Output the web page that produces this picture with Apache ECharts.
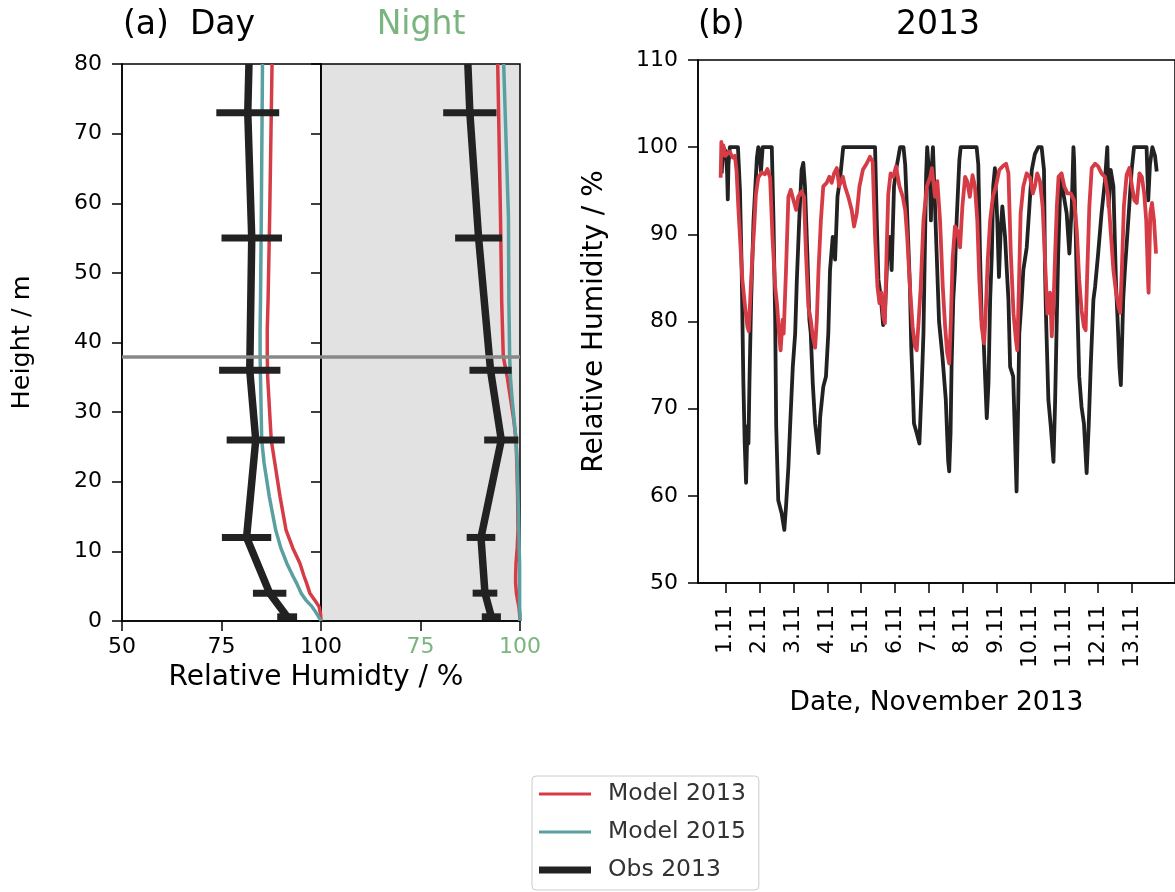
<!DOCTYPE html>
<html>
<head>
<meta charset="utf-8">
<script src="https://cdn.jsdelivr.net/npm/echarts@6/dist/echarts.min.js"></script>
<style>
  html, body { margin: 0; padding: 0; background: #ffffff; }
  #chart { width: 1175px; height: 892px; }
</style>
</head>
<body>
<div id="chart"></div>
<script>
// ---- (a) vertical profiles of relative humidity ----
// observation heights (m) with day / night means and spread (half-width, %)
const obsHeight    = [80, 73, 55, 36, 26, 12, 4, 0.6];
const dayObsRH     = [81.9, 81.6, 82.6, 82.1, 83.6, 81.3, 87.1, 91.5];
const dayObsErr    = [null, 7.9, 7.6, 7.7, 7.3, 6.2, 4.2, 2.5];
const nightObsRH   = [86.9, 87.4, 89.6, 92.6, 95.3, 90.2, 91.2, 92.8];
const nightObsErr  = [null, 6.7, 5.9, 5.3, 4.3, 3.6, 3.1, 2.4];

// model levels (m) and modelled profiles
const modelHeight    = [80, 58, 46, 42, 38, 35, 32, 29, 26, 22.7, 17.9, 13.1, 10.5, 8.3, 6.5, 5.4, 4.0, 3.0, 2.1, 1.0, 0];
const dayModel2013   = [87.7, 87.1, 86.7, 86.5, 86.5, 86.6, 86.9, 87.2, 87.5, 88.4, 89.7, 91.2, 92.9, 94.7, 95.7, 96.4, 97.2, 98.4, 99.5, 99.9, 100];
const dayModel2015   = [85.3, 85.0, 84.8, 84.7, 84.7, 84.8, 84.9, 85.0, 85.1, 85.7, 87.0, 88.6, 89.9, 91.4, 92.9, 93.9, 95.0, 96.2, 97.7, 99.0, 100];
const nightModel2013 = [94.4, 95.1, 95.4, 95.6, 95.8, 96.8, 97.6, 98.4, 99.0, 99.2, 99.4, 99.5, 99.3, 99.0, 98.9, 98.9, 99.1, 99.4, 99.7, 99.9, 100];
const nightModel2015 = [95.9, 97.1, 97.2, 97.3, 97.4, 97.6, 98.0, 98.5, 99.0, 99.3, 99.5, 99.7, 99.8, 99.9, 99.9, 99.9, 99.9, 99.9, 99.9, 100, 100];

// reference height marked across both profile panels (m)
const refHeight = 38;

// ---- (b) time series, November 2013 (time in days of the month) ----
const obsDay = [0.88, 0.92, 1.00, 1.04, 1.06, 1.08, 1.12, 1.36, 1.42, 1.47, 1.52, 1.56, 1.60, 1.64, 1.67, 1.70, 1.75, 1.82, 1.92, 1.96,
  2.00, 2.04, 2.09, 2.36, 2.41, 2.46, 2.49, 2.55, 2.65, 2.73, 2.78, 2.85, 2.90, 2.98, 3.05, 3.10, 3.17, 3.24, 3.29, 3.34,
  3.41, 3.47, 3.51, 3.57, 3.64, 3.74, 3.79, 3.88, 3.96, 4.03, 4.08, 4.16, 4.23, 4.30, 4.38, 4.47, 5.41, 5.46, 5.51, 5.58,
  5.65, 5.70, 5.77, 5.85, 5.90, 5.97, 6.05, 6.15, 6.25, 6.30, 6.35, 6.44, 6.48, 6.52, 6.56, 6.64, 6.72, 6.79, 6.84, 6.88,
  6.92, 6.95, 7.00, 7.04, 7.06, 7.09, 7.12, 7.17, 7.21, 7.30, 7.40, 7.50, 7.57, 7.60, 7.64, 7.67, 7.72, 7.77, 7.82, 7.90,
  7.94, 8.41, 8.46, 8.51, 8.56, 8.61, 8.66, 8.71, 8.76, 8.81, 8.86, 8.90, 8.95, 9.02, 9.07, 9.12, 9.17, 9.25, 9.30, 9.35,
  9.40, 9.49, 9.54, 9.59, 9.64, 9.67, 9.74, 9.79, 9.89, 9.97, 10.04, 10.13, 10.23, 10.33, 10.40, 10.43, 10.46, 10.53, 10.60, 10.68,
  10.73, 10.78, 10.82, 10.89, 10.99, 11.07, 11.15, 11.22, 11.27, 11.29, 11.35, 11.38, 11.44, 11.51, 11.58, 11.66, 11.72, 11.78, 11.86, 11.91,
  12.00, 12.10, 12.20, 12.27, 12.31, 12.37, 12.45, 12.53, 12.57, 12.63, 12.67, 12.70, 12.74, 12.79, 12.89, 12.99, 13.06, 13.43, 13.48, 13.53,
  13.60, 13.68, 13.73];
const obsRH = [97, 100, 99.5, 97, 94, 98, 100, 100, 95, 86, 73, 66, 61.5, 68, 66, 73, 82.5, 91.6, 98.8, 100,
  99.5, 97.2, 100, 100, 91.6, 80.2, 68, 59.5, 58, 56.1, 58.8, 63.3, 67.9, 74.8, 78.6, 84.8, 91.6, 97.4, 98.2, 95.5,
  87.8, 80.2, 78.7, 72.9, 68.3, 64.9, 69.1, 72.5, 73.7, 78.7, 85.9, 89.7, 87.1, 94.3, 96.5, 100, 100, 91.6, 84.8, 82.8,
  79.6, 80.9, 87.1, 89.7, 85.9, 95.5, 97.8, 100, 100, 98, 93.2, 84, 77, 72.9, 68.3, 67.2, 66, 72.9, 78.7, 88,
  97, 100, 100, 95, 91.6, 98, 100, 100, 90, 80, 76, 71, 64, 62.8, 67.2, 74.8, 82.5, 85.9, 91.6, 98.5,
  100, 100, 98, 87.8, 80.2, 78.6, 73.7, 68.9, 72.9, 82.5, 87.8, 95.5, 97.6, 91.6, 85.1, 90.4, 93.2, 89.7, 86, 82.5,
  74.8, 73.7, 67.2, 60.5, 71, 78.6, 82.5, 85.9, 88.5, 93.2, 97.4, 99.2, 100, 100, 97.4, 86, 80.6, 71, 68, 63.9,
  71, 80.6, 87.8, 96.6, 94.3, 92.4, 87.8, 93.2, 100, 98.5, 87.8, 82.5, 73.7, 70.2, 68.3, 62.6, 68, 74.8, 82.5, 84,
  87.8, 92.4, 96.1, 100, 93.2, 97.4, 95.5, 84, 80.6, 74.8, 72.7, 76.7, 82.5, 85.9, 91.6, 97.4, 100, 100, 93.9, 98,
  100, 99, 97.2];

const modDay = [0.85, 0.87, 0.89, 0.93, 0.99, 1.11, 1.21, 1.27, 1.32, 1.37, 1.42, 1.49, 1.57, 1.64, 1.68, 1.74, 1.79, 1.84, 1.89, 1.96,
  2.06, 2.16, 2.23, 2.31, 2.38, 2.46, 2.52, 2.58, 2.62, 2.68, 2.71, 2.78, 2.85, 2.92, 3.00, 3.08, 3.14, 3.24, 3.31, 3.37,
  3.44, 3.51, 3.57, 3.64, 3.69, 3.74, 3.81, 3.88, 3.98, 4.06, 4.13, 4.20, 4.28, 4.35, 4.46, 4.52, 4.62, 4.72, 4.79, 4.87,
  4.95, 5.05, 5.16, 5.26, 5.34, 5.41, 5.48, 5.54, 5.60, 5.65, 5.70, 5.75, 5.80, 5.87, 5.95, 6.03, 6.13, 6.23, 6.30, 6.36,
  6.44, 6.52, 6.59, 6.64, 6.70, 6.76, 6.84, 6.94, 7.04, 7.09, 7.18, 7.25, 7.33, 7.41, 7.48, 7.54, 7.60, 7.65, 7.70, 7.77,
  7.84, 7.92, 7.99, 8.07, 8.13, 8.21, 8.29, 8.36, 8.43, 8.49, 8.56, 8.63, 8.67, 8.74, 8.81, 8.89, 8.98, 9.08, 9.18, 9.28,
  9.35, 9.42, 9.50, 9.57, 9.61, 9.66, 9.71, 9.79, 9.89, 9.99, 10.07, 10.13, 10.20, 10.28, 10.36, 10.43, 10.50, 10.55, 10.58, 10.63,
  10.68, 10.73, 10.78, 10.83, 10.92, 11.00, 11.09, 11.19, 11.29, 11.37, 11.44, 11.51, 11.58, 11.63, 11.68, 11.74, 11.81, 11.91, 12.00, 12.10,
  12.20, 12.30, 12.37, 12.45, 12.53, 12.60, 12.65, 12.70, 12.76, 12.84, 12.92, 13.00, 13.07, 13.14, 13.22, 13.29, 13.36, 13.42, 13.48, 13.49,
  13.54, 13.59, 13.65, 13.71];
const modRH = [96.5, 100.6, 99, 100.2, 99, 99.5, 98.8, 99, 97.2, 93.2, 89.7, 84.8, 81.7, 79.4, 78.9, 84, 87.8, 90.8, 94.6, 96.5,
  97.1, 96.9, 97.5, 96.5, 89.7, 84, 81.7, 78.3, 76.7, 80.2, 78.6, 85.9, 94.3, 95.1, 93.9, 92.8, 94.3, 94.9, 94.3, 87.8,
  81.7, 80.2, 78.3, 77, 80.2, 85.9, 91.6, 95.5, 95.9, 96.6, 95.9, 97, 97.6, 95.5, 96.6, 95.5, 94.3, 92.8, 90.9, 92.4,
  95.5, 97.4, 98.1, 98.9, 98.3, 89.7, 84, 82.1, 83.3, 80.6, 79.8, 87.8, 94.6, 97, 96.6, 97.8, 95.5, 94.3, 92.8, 89.7,
  84, 79.4, 77.1, 76.7, 80.2, 84, 91.6, 95.5, 96.6, 97.6, 94.3, 96.1, 91.6, 84, 79.4, 76.4, 75.2, 80.2, 87.1, 90.9,
  90.4, 88.5, 93.2, 96.6, 96.1, 94.3, 96.8, 95.5, 91.6, 84.8, 79.4, 77.5, 80.2, 87.1, 91.6, 94.3, 95.5, 97.4, 97.8, 98.1,
  97, 87.8, 80.9, 77.9, 76.7, 84, 92.4, 95.5, 97, 96.5, 94.7, 95.5, 97, 96.1, 93.2, 87.1, 80.9, 81.7, 83.3, 78.3,
  81.7, 87.8, 93.2, 96.6, 97, 95.5, 94.7, 94.7, 93.9, 90.4, 84.8, 81.3, 79.4, 79, 85.9, 93.2, 97.6, 98.1, 97.8, 97,
  96.6, 94.3, 90.4, 85.9, 83.3, 81.7, 81, 85.9, 93.2, 96.8, 97.6, 95.5, 93.9, 93.6, 97, 96.6, 94.7, 91.6, 84, 83.3,
  92.4, 93.6, 91.6, 87.8];

// date ticks of panel (b)
const dateTicks  = [1, 2, 3, 4, 5, 6, 7, 8, 9, 10, 11, 12, 13];
const dateLabels = ['1.11', '2.11', '3.11', '4.11', '5.11', '6.11', '7.11', '8.11', '9.11', '10.11', '11.11', '12.11', '13.11'];

// ---- styling ----
const FONT = 'DejaVu Sans';
const RED = '#d63c46';
const TEAL = '#5aa0a0';
const OBS = '#222222';
const NIGHT_GREEN = '#7ab57f';

const pairs = (xs, ys) => xs.map((x, i) => [x, ys[i]]);
const profile = (rh, h) => rh.map((v, i) => [v, h[i]]);
const errData = (rh, err, h) => rh.map((v, i) => [v, err[i], h[i]]).filter(d => d[1] != null);

function axisCommon(extra) {
  return Object.assign({
    type: 'value',
    splitLine: { show: false },
    axisLine: { show: true, lineStyle: { color: '#000', width: 1.5 } },
    axisTick: { show: true, inside: false, length: 10, lineStyle: { color: '#000', width: 1.5 } },
    axisLabel: { fontFamily: FONT, fontSize: 22, color: '#000' }
  }, extra);
}

function errorBars(rh, err, xIdx, yIdx) {
  return {
    name: 'Obs 2013', type: 'custom', xAxisIndex: xIdx, yAxisIndex: yIdx, z: 4,
    color: OBS, silent: true,
    data: errData(rh, err, obsHeight),
    renderItem: function (params, api) {
      const v = api.value(0), e = api.value(1), h = api.value(2);
      const p1 = api.coord([v - e, h]);
      const p2 = api.coord([v + e, h]);
      return {
        type: 'rect',
        shape: { x: p1[0], y: p1[1] - 3.5, width: p2[0] - p1[0], height: 7 },
        style: { fill: OBS }
      };
    }
  };
}

const refLine = {
  silent: true, symbol: 'none', label: { show: false },
  lineStyle: { color: '#888888', width: 3.5, type: 'solid' },
  data: [{ yAxis: refHeight }]
};

const lineSeries = (name, color, width, data, xIdx, yIdx, z, extra) => Object.assign({
  name, type: 'line', xAxisIndex: xIdx, yAxisIndex: yIdx, z,
  color, symbol: 'none', showSymbol: false, smooth: false,
  lineStyle: { color, width, cap: 'butt', join: 'round' },
  data
}, extra || {});

const chart = echarts.init(document.getElementById('chart'), null, { renderer: 'canvas' });

chart.setOption({
  animation: false,
  backgroundColor: '#ffffff',
  textStyle: { fontFamily: FONT },
  grid: [
    { left: 122, top: 64, width: 199, height: 557, show: true, borderColor: '#000', borderWidth: 1.5, backgroundColor: 'transparent' },
    { left: 321, top: 64, width: 199, height: 557, show: true, borderColor: '#000', borderWidth: 1.5, backgroundColor: '#e2e2e2' },
    { left: 698, top: 60, width: 477, height: 523, show: true, borderColor: '#000', borderWidth: 1.5, backgroundColor: 'transparent' }
  ],
  xAxis: [
    axisCommon({ gridIndex: 0, min: 50, max: 100, interval: 25,
      axisLabel: { fontFamily: FONT, fontSize: 22, color: '#000', margin: 15 } }),
    axisCommon({ gridIndex: 1, min: 50, max: 100, interval: 25,
      axisLabel: { fontFamily: FONT, fontSize: 22, color: NIGHT_GREEN, margin: 15, showMinLabel: false } }),
    axisCommon({ gridIndex: 2, min: 0.18, max: 14.27,
      name: 'Date, November 2013', nameLocation: 'middle', nameGap: 107,
      nameTextStyle: { fontFamily: FONT, fontSize: 26.5, color: '#000' },
      axisTick: { show: true, length: 10, customValues: dateTicks, lineStyle: { color: '#000', width: 1.5 } },
      axisLabel: { fontFamily: FONT, fontSize: 22, color: '#000', rotate: 90, margin: 22,
        customValues: dateTicks,
        formatter: v => dateLabels[dateTicks.indexOf(Math.round(v))] || '' } })
  ],
  yAxis: [
    axisCommon({ gridIndex: 0, min: 0, max: 80, interval: 10,
      name: 'Height / m', nameLocation: 'middle', nameGap: 87,
      nameTextStyle: { fontFamily: FONT, fontSize: 25.5, color: '#000' },
      axisLabel: { fontFamily: FONT, fontSize: 22, color: '#000', margin: 20 } }),
    axisCommon({ gridIndex: 1, min: 0, max: 80, interval: 10,
      axisLabel: { show: false } }),
    axisCommon({ gridIndex: 2, min: 50, max: 110, interval: 10,
      name: 'Relative Humidity / %', nameLocation: 'middle', nameGap: 89,
      nameTextStyle: { fontFamily: FONT, fontSize: 28, color: '#000' },
      axisLabel: { fontFamily: FONT, fontSize: 22, color: '#000', margin: 20 } })
  ],
  legend: {
    orient: 'vertical', left: 532, top: 776,
    itemWidth: 52, itemHeight: 8, itemGap: 14,
    padding: [6, 13, 8, 7],
    backgroundColor: '#ffffff', borderColor: '#cccccc', borderWidth: 1, borderRadius: 4,
    itemStyle: { borderWidth: 0 },
    textStyle: { fontFamily: FONT, fontSize: 23.5, color: '#333', padding: [0, 0, 0, 12] },
    selectedMode: false,
    data: [
      { name: 'Model 2013', icon: 'path://M0,0H52V3H0Z' },
      { name: 'Model 2015', icon: 'path://M0,0H52V3H0Z' },
      { name: 'Obs 2013', icon: 'path://M0,0H52V7H0Z' }
    ]
  },
  graphic: [
    { type: 'text', x: 123, y: 25, style: { text: '(a)  Day', fontFamily: FONT, fontSize: 33, fill: '#000', align: 'left', verticalAlign: 'middle' } },
    { type: 'text', x: 421, y: 25, style: { text: 'Night', fontFamily: FONT, fontSize: 33, fill: NIGHT_GREEN, align: 'center', verticalAlign: 'middle' } },
    { type: 'text', x: 698, y: 25, style: { text: '(b)', fontFamily: FONT, fontSize: 33, fill: '#000', align: 'left', verticalAlign: 'middle' } },
    { type: 'text', x: 938, y: 25, style: { text: '2013', fontFamily: FONT, fontSize: 33, fill: '#000', align: 'center', verticalAlign: 'middle' } },
    { type: 'text', x: 316, y: 678, style: { text: 'Relative Humidty / %', fontFamily: FONT, fontSize: 28, fill: '#000', align: 'center', verticalAlign: 'middle' } }
  ],
  series: [
    // (a) day
    lineSeries('Model 2013', RED, 3.5, profile(dayModel2013, modelHeight), 0, 0, 2, { markLine: refLine }),
    lineSeries('Model 2015', TEAL, 3.5, profile(dayModel2015, modelHeight), 0, 0, 2),
    lineSeries('Obs 2013', OBS, 7.5, profile(dayObsRH, obsHeight), 0, 0, 3),
    errorBars(dayObsRH, dayObsErr, 0, 0),
    // (a) night
    lineSeries('Model 2013', RED, 3.5, profile(nightModel2013, modelHeight), 1, 1, 2, { markLine: refLine }),
    lineSeries('Model 2015', TEAL, 3.5, profile(nightModel2015, modelHeight), 1, 1, 2),
    lineSeries('Obs 2013', OBS, 7.5, profile(nightObsRH, obsHeight), 1, 1, 3),
    errorBars(nightObsRH, nightObsErr, 1, 1),
    // (b) time series
    lineSeries('Obs 2013', OBS, 3.8, pairs(obsDay, obsRH), 2, 2, 2),
    lineSeries('Model 2013', RED, 3.8, pairs(modDay, modRH), 2, 2, 3)
  ]
});
</script>
</body>
</html>
